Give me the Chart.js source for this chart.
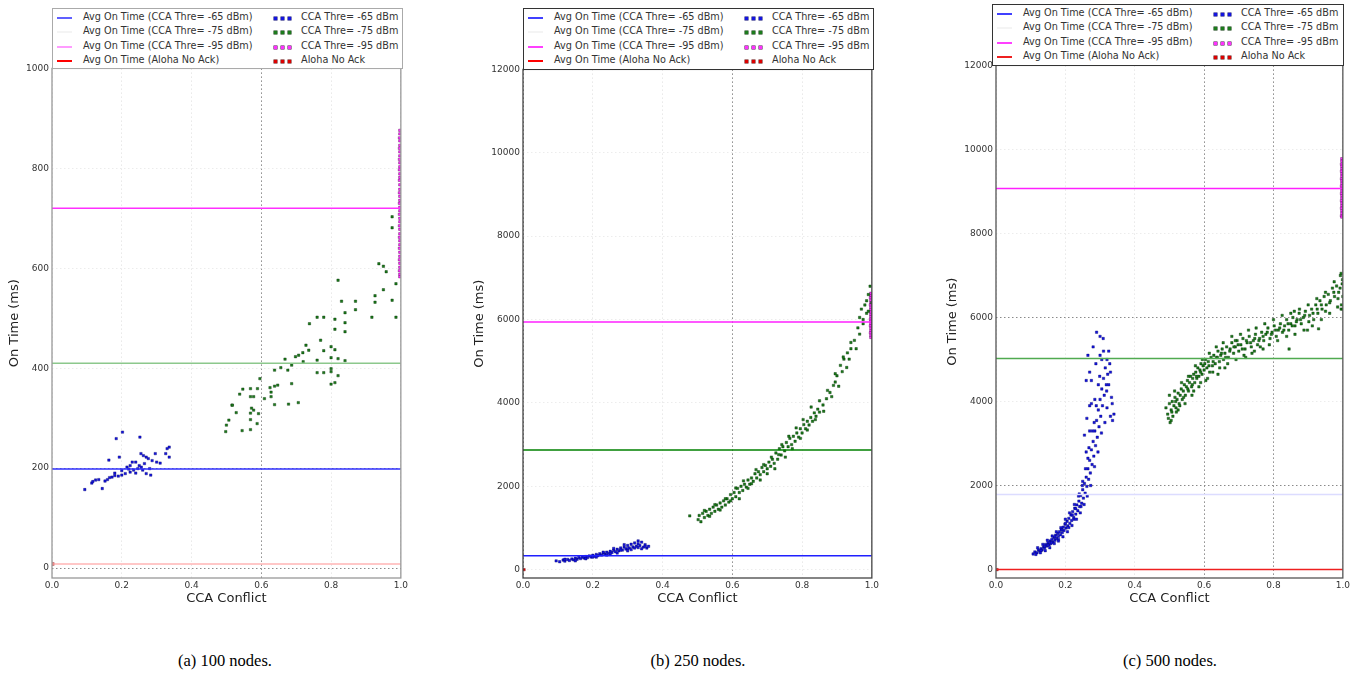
<!DOCTYPE html>
<html>
<head>
<meta charset="utf-8">
<script src="https://cdn.jsdelivr.net/npm/chart.js@4.4.0/dist/chart.umd.min.js"></script>
<style>
    body { margin: 0; width: 1359px; height: 675px; background: #fff; position: relative; overflow: hidden; font-family: "DejaVu Sans", sans-serif; }
    .plot { position: absolute; }
    .legend { position: absolute; background: #fff; box-sizing: border-box; font-size: 9.7px; color: #333; }
    .legend span { position: absolute; white-space: nowrap; line-height: 12px; }
    .legend i { position: absolute; display: block; }
    .caption { position: absolute; width: 300px; text-align: center; font: 16.5px "Liberation Serif", serif; color: #000; }
</style>
</head>
<body>

<div class="plot" style="left:0px; top:60px;"><canvas id="chartA" width="410" height="548"></canvas></div>
<div class="plot" style="left:465px; top:61px;"><canvas id="chartB" width="416" height="547"></canvas></div>
<div class="plot" style="left:938px; top:57px;"><canvas id="chartC" width="414" height="551"></canvas></div>

<div class="legend" id="legendA" style="left:52px; top:8px; width:351px; height:61px; border:1px solid #aaa;"></div>
<div class="legend" id="legendB" style="left:523px; top:8px; width:351px; height:62px; border:1px solid #333;"></div>
<div class="legend" id="legendC" style="left:992px; top:4px; width:352px; height:62px; border:1px solid #333;"></div>

<div class="caption" style="left:75px; top:651px;">(a) 100 nodes.</div>
<div class="caption" style="left:548px; top:651px;">(b) 250 nodes.</div>
<div class="caption" style="left:1020px; top:651px;">(c) 500 nodes.</div>

<script>
    "use strict";

    // Labels
    var LINE_LABELS = ["Avg On Time (CCA Thre= -65 dBm)", "Avg On Time (CCA Thre= -75 dBm)",
                       "Avg On Time (CCA Thre= -95 dBm)", "Avg On Time (Aloha No Ack)"];
    var POINT_LABELS = ["CCA Thre= -65 dBm", "CCA Thre= -75 dBm", "CCA Thre= -95 dBm", "Aloha No Ack"];
    var X_TICKS = [0, 0.2, 0.4, 0.6, 0.8, 1.0];
    var Y_TICKS_A = [0, 200, 400, 600, 800, 1000];
    var Y_TICKS_BC = [0, 2000, 4000, 6000, 8000, 10000, 12000];

    // Average lines: -65, -75, -95, Aloha
    var AVG_A = [198, 410, 720, 8];
    var AVG_B = [335, 2870, 5940, null];
    var AVG_C = [1790, 5025, 9070, 0];

    // (a) 100 nodes
    var A_CCA65 = [[0.094,157],[0.114,170],[0.117,173],[0.125,176],[0.134,177],[0.144,159],[0.152,174],[0.159,177],
        [0.163,216],[0.165,181],[0.172,182],[0.18,185],[0.184,259],[0.19,184],[0.193,222],[0.2,186],[0.202,272],
        [0.21,189],[0.215,202],[0.224,192],[0.224,205],[0.23,212],[0.234,196],[0.24,212],[0.246,199],[0.25,205],
        [0.252,262],[0.255,229],[0.256,202],[0.262,225],[0.265,209],[0.27,189],[0.276,219],[0.28,199],[0.283,186],
        [0.287,215],[0.296,229],[0.3,212],[0.31,210],[0.326,229],[0.33,239],[0.336,242],[0.336,222],[0.2,195],
        [0.18,190],[0.26,196],[0.27,222],[0.24,190],[0.22,198]];
    var A_CCA75 = [[0.498,273],[0.5,286],[0.507,296],[0.516,326],[0.517,326],[0.528,311],[0.538,348],[0.545,275],
        [0.547,358],[0.569,277],[0.569,297],[0.569,310],[0.569,343],[0.569,359],[0.572,320],[0.578,316],[0.578,343],
        [0.588,289],[0.589,359],[0.592,309],[0.596,379],[0.609,339],[0.625,361],[0.628,343],[0.628,352],[0.638,327],
        [0.638,364],[0.638,396],[0.647,366],[0.656,401],[0.668,418],[0.676,396],[0.678,328],[0.687,369],[0.687,406],
        [0.698,423],[0.706,331],[0.707,426],[0.719,431],[0.72,413],[0.728,446],[0.736,436],[0.738,489],[0.76,391],
        [0.76,416],[0.76,502],[0.77,456],[0.779,391],[0.779,435],[0.779,502],[0.8,368],[0.8,393],[0.8,399],
        [0.8,421],[0.8,443],[0.811,371],[0.811,437],[0.811,478],[0.811,498],[0.82,385],[0.82,419],[0.82,576],
        [0.83,534],[0.84,415],[0.84,473],[0.84,491],[0.84,511],[0.87,517],[0.87,534],[0.917,502],[0.926,532],
        [0.926,545],[0.937,609],[0.95,557],[0.95,604],[0.958,593],[0.975,536],[0.975,681],[0.975,703],[0.986,502],
        [0.986,569]];
    var A_CCA95 = [[0.997,876],[0.997,869],[0.996,861],[0.997,855],[0.997,846],[0.996,840],[0.997,833],[0.997,825],
        [0.996,818],[0.997,811],[0.997,803],[0.996,797],[0.997,789],[0.997,782],[0.996,776],[0.997,767],[0.997,758],
        [0.996,751],[0.997,744],[0.997,736],[0.996,730],[0.997,722],[0.997,715],[0.996,708],[0.997,700],[0.997,693],
        [0.996,685],[0.997,678],[0.997,669],[0.996,662],[0.997,655],[0.997,647],[0.996,640],[0.997,632],[0.997,624],
        [0.996,617],[0.997,610],[0.997,602],[0.996,595],[0.997,588],[0.997,583]];
    var A_ALOHA = [[0.003,8]];

    // (b) 250 nodes
    var B_CCA65 = [[0.095,210],[0.105,190],[0.115,230],[0.12,205],[0.128,245],[0.133,220],[0.14,255],[0.145,235],
        [0.15,275],[0.155,250],[0.16,290],[0.165,265],[0.17,300],[0.175,280],[0.18,315],[0.185,290],[0.19,330],
        [0.195,305],[0.2,345],[0.205,320],[0.21,365],[0.215,335],[0.22,380],[0.225,350],[0.23,400],[0.235,370],
        [0.24,420],[0.245,390],[0.25,440],[0.255,410],[0.26,465],[0.265,430],[0.27,490],[0.275,450],[0.28,520],
        [0.285,470],[0.29,545],[0.295,495],[0.3,580],[0.305,520],[0.31,610],[0.315,545],[0.32,640],[0.325,560],
        [0.33,690],[0.335,580],[0.34,660],[0.345,540],[0.35,600],[0.355,520],[0.2,300],[0.25,380],[0.28,470],
        [0.3,500],[0.32,520],[0.31,480],[0.29,600],[0.33,620],[0.34,500],[0.36,560],
        [0.12,250],[0.15,210],[0.18,260],[0.21,300],[0.24,350],[0.27,400],[0.3,450],[0.33,530],[0.35,560],
        [0.26,510],[0.23,420]];
    var B_CCA75 = [[0.478,1290],[0.502,1200],[0.505,1300],[0.51,1150],[0.515,1350],[0.52,1250],[0.525,1400],
        [0.53,1300],[0.535,1450],[0.54,1350],[0.545,1500],[0.55,1400],[0.555,1550],[0.56,1450],[0.565,1600],
        [0.57,1500],[0.575,1650],[0.58,1550],[0.585,1700],[0.59,1620],[0.595,1800],[0.6,1700],[0.605,1850],
        [0.61,1750],[0.615,1950],[0.62,1850],[0.625,2000],[0.63,1900],[0.635,2050],[0.64,1980],[0.645,2150],
        [0.65,2050],[0.655,2200],[0.66,2120],[0.665,2300],[0.67,2200],[0.675,2350],[0.68,2280],[0.685,2450],
        [0.69,2350],[0.695,2500],[0.7,2420],[0.705,2580],[0.71,2480],[0.715,2650],[0.72,2550],[0.725,2800],
        [0.73,2650],[0.735,2900],[0.74,2750],[0.745,2950],[0.75,2850],[0.755,3050],[0.76,2950],[0.765,3150],
        [0.77,3000],[0.775,3200],[0.78,3080],[0.785,3280],[0.79,3180],[0.795,3380],[0.8,3280],[0.805,3480],
        [0.81,3380],[0.815,3560],[0.82,3470],[0.825,3650],[0.83,3560],[0.835,3760],[0.84,3680],[0.845,3850],
        [0.85,3780],[0.86,3950],[0.87,4100],[0.88,4250],[0.89,4420],[0.895,4500],[0.9,4650],[0.91,4900],
        [0.915,4750],[0.92,5050],[0.93,5200],[0.935,5050],[0.94,5300],[0.95,5500],[0.96,5800],[0.965,6050],
        [0.97,6250],[0.975,6000],[0.98,6350],[0.985,6150],[0.99,6600],[0.995,6800],[1.0,6400],
        [0.52,1420],[0.535,1280],[0.55,1560],[0.565,1430],[0.58,1700],[0.595,1650],[0.61,1960],[0.62,1700],
        [0.632,2130],[0.645,1950],[0.655,2060],[0.668,2400],[0.68,2150],[0.69,2520],[0.7,2300],[0.712,2700],
        [0.722,2420],[0.733,2760],[0.742,3000],[0.752,2700],[0.762,3200],[0.772,2900],[0.783,3400],[0.795,3150],
        [0.803,3600],[0.815,3350],[0.826,3900],[0.838,3600],[0.85,4050],[0.862,3800],[0.873,4300],[0.885,4150],
        [0.895,4700],[0.905,4400],[0.918,5100],[0.928,4850],[0.94,5450],[0.955,5300],[0.965,5650],[0.975,5900],
        [0.985,6450],[0.99,6200]];
    var B_CCA95 = [[0.997,6630],[0.997,6570],[0.996,6520],[0.997,6460],[0.997,6400],[0.996,6350],[0.997,6290],
        [0.997,6240],[0.996,6180],[0.997,6120],[0.997,6070],[0.996,6010],[0.997,5960],[0.997,5900],[0.996,5850],
        [0.997,5790],[0.997,5730],[0.996,5680],[0.997,5620],[0.997,5570]];
    var B_ALOHA = [[0.003,0]];

    // (c) 500 nodes
    var C_CCA65 = [[0.107,373],[0.112,420],[0.118,400],[0.122,470],[0.126,440],[0.13,500],[0.133,470],[0.137,540],
        [0.14,510],[0.143,600],[0.146,560],[0.15,640],[0.153,590],[0.156,680],[0.158,620],[0.161,720],[0.164,660],
        [0.167,760],[0.17,700],[0.172,820],[0.175,740],[0.178,860],[0.18,790],[0.183,900],[0.186,830],[0.188,960],
        [0.191,880],[0.194,1010],[0.196,930],[0.199,1080],[0.202,990],[0.205,1150],[0.207,1040],[0.21,1220],
        [0.213,1100],[0.216,1300],[0.218,1170],[0.221,1380],[0.224,1240],[0.227,1460],[0.23,1320],[0.233,1540],
        [0.236,1400],[0.239,1630],[0.241,1500],[0.244,1760],[0.247,1580],[0.25,1900],[0.252,1700],[0.255,2050],
        [0.257,1820],[0.26,2200],[0.262,1980],[0.265,2400],[0.267,2150],[0.27,2600],[0.272,2300],[0.275,2850],
        [0.277,2500],[0.28,3050],[0.282,2700],[0.285,3300],[0.287,2950],[0.29,3550],[0.292,3150],[0.295,3800],
        [0.297,3400],[0.3,4050],[0.302,3650],[0.305,4300],[0.307,3900],[0.31,4550],[0.312,4150],[0.315,4800],
        [0.318,4400],[0.32,5000],[0.322,4650],[0.325,5200],[0.328,4900],[0.33,3650],[0.333,4100],[0.336,3550],
        [0.34,3700],[0.26,4500],[0.265,5100],[0.27,4700],[0.275,3950],[0.28,5300],[0.29,5650],[0.3,5550],
        [0.305,5000],[0.295,4400],[0.285,4050],[0.26,2800],[0.255,3200],[0.27,3900],[0.25,2100],[0.24,1800],
        [0.23,1450],[0.22,1300],[0.2,1100],[0.19,950],[0.17,780],[0.15,580],[0.14,560],[0.13,450],[0.16,640],
        [0.18,720],[0.21,1000],[0.225,1200],[0.245,1500],[0.265,2650],[0.283,3500],[0.31,5200],[0.325,4400],
        [0.32,3850],[0.335,3950],
        [0.115,360],[0.12,520],[0.128,400],[0.135,600],[0.142,450],[0.148,700],[0.155,520],[0.162,800],
        [0.168,620],[0.174,900],[0.18,680],[0.187,1000],[0.193,780],[0.2,1200],[0.206,900],[0.212,1350],
        [0.219,1050],[0.226,1550],[0.232,1200],[0.238,1750],[0.243,1350],[0.249,2000],[0.254,1550],[0.258,2400],
        [0.263,1750],[0.268,2900],[0.273,2000],[0.278,3300],[0.284,2450],[0.289,3900],[0.294,2800],[0.299,4600],
        [0.304,3250],[0.309,5500],[0.314,3500],[0.319,4250],[0.33,4700],[0.275,4500],[0.288,4900],[0.262,3600],
        [0.27,3300],[0.3,5100]];
    var C_CCA75 = [[0.49,3850],[0.495,3700],[0.5,3950],[0.502,3500],[0.505,3800],[0.508,4000],[0.51,3650],
        [0.513,3900],[0.516,4100],[0.519,3850],[0.522,4050],[0.525,4200],[0.528,3950],[0.531,4150],[0.534,4300],
        [0.537,4050],[0.54,4250],[0.543,4400],[0.546,4150],[0.549,4350],[0.552,4500],[0.555,4250],[0.558,4450],
        [0.561,4600],[0.564,4350],[0.567,4550],[0.57,4650],[0.573,4450],[0.576,4700],[0.579,4550],[0.582,4800],
        [0.585,4600],[0.588,4750],[0.591,4900],[0.594,4650],[0.597,4850],[0.6,4750],[0.604,5000],[0.608,4800],
        [0.612,4950],[0.616,4700],[0.62,5050],[0.624,4850],[0.628,5100],[0.632,4900],[0.636,5050],[0.64,5200],
        [0.644,4950],[0.648,5100],[0.652,5250],[0.656,5000],[0.66,5150],[0.665,5300],[0.67,5050],[0.675,5250],
        [0.68,5400],[0.685,5150],[0.69,5300],[0.695,5450],[0.7,5200],[0.706,5350],[0.712,5500],[0.718,5250],
        [0.724,5400],[0.73,5550],[0.736,5300],[0.742,5450],[0.748,5600],[0.754,5350],[0.76,5500],[0.766,5650],
        [0.772,5450],[0.778,5600],[0.784,5750],[0.79,5500],[0.796,5650],[0.802,5800],[0.808,5550],[0.814,5700],
        [0.82,5850],[0.826,5650],[0.832,5800],[0.838,5950],[0.844,5700],[0.85,5850],[0.856,6000],[0.862,5800],
        [0.868,5950],[0.874,6100],[0.88,5850],[0.886,6000],[0.892,6150],[0.898,5700],[0.904,6050],[0.91,6200],
        [0.916,5950],[0.922,6300],[0.928,6100],[0.934,6400],[0.94,6200],[0.946,6500],[0.952,6300],[0.958,6550],
        [0.964,6400],[0.97,6700],[0.976,6500],[0.982,6750],[0.988,6600],[0.993,7000],[0.996,6300],[0.998,6800],
        [1.0,6500],[0.995,6200],[0.999,6900],[0.845,5250],[0.93,5730],
        [0.497,3600],[0.507,3750],[0.518,4000],[0.53,3900],[0.541,4100],[0.553,4300],[0.566,4400],[0.578,4600],
        [0.59,4700],[0.602,4900],[0.614,4850],[0.626,4950],[0.638,5050],[0.65,5150],[0.662,5050],[0.674,5200],
        [0.686,5300],[0.698,5350],[0.71,5250],[0.722,5450],[0.734,5400],[0.746,5500],[0.758,5450],[0.77,5550],
        [0.782,5650],[0.794,5600],[0.806,5700],[0.818,5750],[0.83,5700],[0.842,5850],[0.854,5800],[0.866,5900],
        [0.878,5950],[0.89,6050],[0.902,5900],[0.914,6100],[0.926,6200],[0.938,6300],[0.95,6150],[0.962,6350],
        [0.974,6600],[0.986,6450],[0.992,6700],[1.0,6200],[0.745,5200],[0.72,5050],[0.66,4800],[0.61,4550],
        [0.57,4250],[0.52,3750],
        [0.5,4150],[0.505,3550],[0.515,4250],[0.525,3800],[0.535,4450],[0.545,3950],[0.555,4600],[0.565,4150],
        [0.575,4850],[0.585,4350],[0.595,5000],[0.605,4500],[0.615,5150],[0.625,4700],[0.635,5300],[0.645,4800],
        [0.655,5400],[0.668,4900],[0.68,5550],[0.692,5000],[0.705,5600],[0.715,5100],[0.728,5700],[0.738,5150],
        [0.75,5750],[0.762,5300],[0.775,5850],[0.788,5350],[0.8,5950],[0.812,5450],[0.825,6050],[0.838,5550],
        [0.85,6100],[0.862,5600],[0.875,6200],[0.888,5700],[0.9,6300],[0.912,5800],[0.925,6450],[0.938,5950],
        [0.95,6600],[0.962,6100],[0.975,6850],[0.985,6250],[0.995,7050],[0.59,4450],[0.64,4650],[0.69,5450],
        [0.77,5250],[0.86,6150]];
    var C_CCA95 = [[0.997,9780],[0.997,9720],[0.996,9650],[0.997,9600],[0.997,9540],[0.996,9480],[0.997,9420],
        [0.997,9360],[0.996,9300],[0.997,9250],[0.997,9190],[0.996,9130],[0.997,9070],[0.997,9010],[0.996,8950],
        [0.997,8900],[0.997,8840],[0.996,8780],[0.997,8720],[0.997,8660],[0.996,8600],[0.997,8540],[0.997,8480],
        [0.996,8420],[0.997,8390]];
    var C_ALOHA = [[0.003,0]];


    // Colours: -65, -75, -95, Aloha
    var POINT_FILL = ["#1414e0", "#1c7c1c", "#ff30ff", "#dd0000"];
    var POINT_EDGE = ["#000070", "#003000", "#500050", "#600000"];

    function pts(list) {
        return list.map(function (p) { return {x: p[0], y: p[1]}; });
    }

    function near(v, list) {
        for (var i = 0; i < list.length; i++) {
            if (Math.abs(v - list[i]) < 1e-6) return true;
        }
        return false;
    }

    // Frame around the plot area
    var framePlugin = {
        id: "frame",
        afterDatasetsDraw: function (chart, args, opts) {
            var a = chart.chartArea, c = chart.ctx;
            c.save();
            c.strokeStyle = opts.color;
            c.lineWidth = 1.3;
            c.strokeRect(a.left, a.top, a.right - a.left, a.bottom - a.top);
            c.restore();
        }
    };

    function makeChart(id, cfg) {
        var datasets = [];
        cfg.avg.forEach(function (v, i) {
            if (v === null) return;
            datasets.push({
                data: [{x: 0, y: v}, {x: 1, y: v}],
                showLine: true,
                pointRadius: 0,
                borderColor: cfg.lineColors[i],
                borderWidth: 1.5,
                order: 1
            });
        });
        cfg.series.forEach(function (s, i) {
            datasets.push({
                data: pts(s),
                pointStyle: "rect",
                pointRadius: 1.7,
                borderWidth: 0.4,
                backgroundColor: POINT_FILL[i],
                borderColor: POINT_EDGE[i],
                order: 2
            });
        });

        var tickFont = {family: "DejaVu Sans", size: 9};
        var titleFont = {family: "DejaVu Sans", size: 13};

        return new Chart(document.getElementById(id), {
            type: "scatter",
            data: {datasets: datasets},
            options: {
                responsive: false,
                animation: false,
                events: [],
                layout: {padding: {top: 8, right: 8, left: 0, bottom: 0}},
                plugins: {
                    legend: {display: false},
                    tooltip: {enabled: false},
                    frame: {color: cfg.frame}
                },
                scales: {
                    x: {
                        type: "linear",
                        min: 0,
                        max: 1,
                        afterBuildTicks: function (s) {
                            s.ticks = X_TICKS.map(function (v) { return {value: v}; });
                        },
                        afterFit: function (s) { s.height = 30; },
                        ticks: {
                            padding: 2, font: tickFont, color: "#333", maxRotation: 0, autoSkip: false,
                            callback: function (v) { return Number(v).toFixed(1); }
                        },
                        grid: {
                            drawTicks: false,
                            color: function (ctx) {
                                return ctx.tick && near(ctx.tick.value, cfg.darkX) ? "#8a8a8a" : "#e8e8e8";
                            }
                        },
                        border: {display: false, dash: [1.5, 2.5]},
                        title: {display: true, text: "CCA Conflict", font: titleFont, color: "#222",
                                padding: {top: 0, bottom: 2}}
                    },
                    y: {
                        type: "linear",
                        min: cfg.yMin,
                        max: cfg.yMax,
                        afterBuildTicks: function (s) {
                            s.ticks = cfg.yTicks.map(function (v) { return {value: v}; });
                        },
                        afterFit: function (s) { s.width = cfg.yW; },
                        ticks: {
                            padding: 3, font: tickFont, color: "#333",
                            callback: function (v) { return String(v); }
                        },
                        grid: {
                            drawTicks: false,
                            color: function (ctx) {
                                return ctx.tick && near(ctx.tick.value, cfg.darkY) ? "#8a8a8a" : "#ececec";
                            }
                        },
                        border: {display: false, dash: [1.5, 2.5]},
                        title: {display: true, text: "On Time (ms)", font: titleFont, color: "#222",
                                padding: {top: 7, bottom: 0}}
                    }
                }
            },
            plugins: [framePlugin]
        });
    }

    // HTML legend, two columns like the original
    var ROW_Y = [9, 23, 38, 52];

    function buildLegend(id, lineColors) {
        var box = document.getElementById(id);
        var html = "";
        for (var i = 0; i < 4; i++) {
            var y = ROW_Y[i];
            html += '<i style="left:4px; top:' + (y - 1) + 'px; width:15px; height:1.6px; background:' + lineColors[i] + ';"></i>';
            html += '<span style="left:30px; top:' + (y - 7) + 'px;">' + LINE_LABELS[i] + '</span>';
            for (var k = 0; k < 3; k++) {
                html += '<i style="left:' + (221 + k * 7) + 'px; top:' + (y - 1) + 'px; width:2.5px; height:2.5px; background:' +
                        POINT_FILL[i] + '; box-shadow:0 0 0 0.5px ' + POINT_EDGE[i] + ';"></i>';
            }
            html += '<span style="left:248px; top:' + (y - 7) + 'px;">' + POINT_LABELS[i] + '</span>';
        }
        box.innerHTML = html;
    }

    makeChart("chartA", {
        avg: AVG_A,
        lineColors: ["#3030ff", "#8cc88c", "#ff30ff", "#ffb4b4"],
        series: [A_CCA65, A_CCA75, A_CCA95, A_ALOHA],
        yMin: -20, yMax: 1000, yTicks: Y_TICKS_A, yW: 52,
        darkX: [0.6], darkY: [0, 200],
        frame: "#999"
    });
    makeChart("chartB", {
        avg: AVG_B,
        lineColors: ["#2020ff", "#008000", "#ff20ff", "#ff0000"],
        series: [B_CCA65, B_CCA75, B_CCA95, B_ALOHA],
        yMin: -200, yMax: 12000, yTicks: Y_TICKS_BC, yW: 58,
        darkX: [0, 0.6], darkY: [],
        frame: "#444"
    });
    makeChart("chartC", {
        avg: AVG_C,
        lineColors: ["#dcdcff", "#50aa50", "#ff20ff", "#ee2020"],
        series: [C_CCA65, C_CCA75, C_CCA95, C_ALOHA],
        yMin: -200, yMax: 12000, yTicks: Y_TICKS_BC, yW: 58,
        darkX: [0.6, 0.8], darkY: [2000, 6000],
        frame: "#555"
    });

    buildLegend("legendA", ["#6060ff", "#f4f4f4", "#ff9cff", "#ff0000"]);
    buildLegend("legendB", ["#4040ff", "#f4f4f4", "#ff40ff", "#ff0000"]);
    buildLegend("legendC", ["#4040ff", "#f4f4f4", "#ff40ff", "#ee2020"]);
</script>
</body>
</html>
